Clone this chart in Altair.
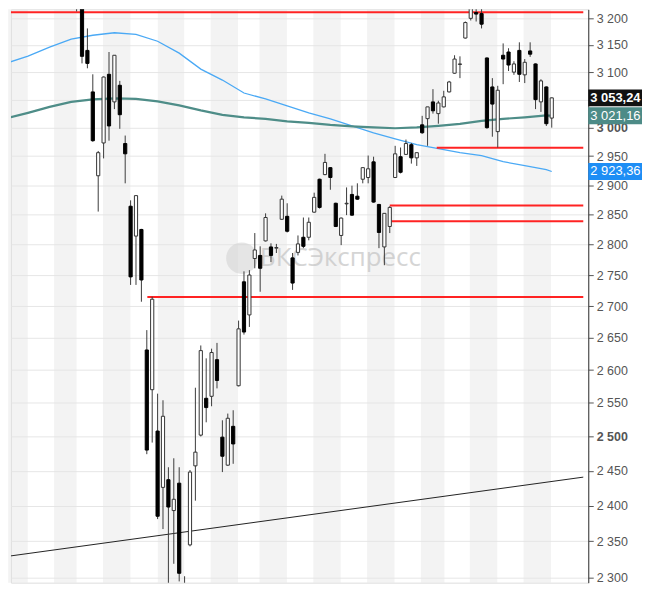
import altair as alt
import pandas as pd

# ---- candles (daily OHLC, index 1..89 from left) ----
opens = [3250, 3245, 3140, 3064, 2916, 2973, 3096, 3046, 3076, 2972,
         2864, 2814, 2825, 2631, 2570, 2508, 2426, 2437, 2393, 2432,
         2292, 2345, 2457, 2502, 2557, 2560, 2616, 2499, 2458, 2515,
         2576, 2739, 2686, 2777, 2782, 2806, 2796, 2794, 2842, 2847,
         2778, 2787, 2812, 2812, 2854, 2910, 2918, 2930, 2869, 2815,
         2868, 2884, 2881, 2910, 2913, 2940, 2867, 2796, 2830, 2913,
         2949, 2953, 2970, 2947, 3005, 3016, 3046, 3025, 3037, 3064,
         3098, 3114, 3163, 3200, 3211, 3209, 3126, 3073, 2993, 3131,
         3137, 3100, 3140, 3095, 3139, 3115, 3046, 3073, 3017]
highs = [3270, 3255, 3181, 3096, 2959, 3092, 3137, 3131, 3084, 2986,
         2874, 2882, 2826, 2662, 2715, 2564, 2554, 2455, 2468, 2455,
         2302, 2451, 2573, 2638, 2618, 2633, 2642, 2524, 2534, 2539,
         2677, 2756, 2758, 2819, 2797, 2852, 2802, 2801, 2882, 2869,
         2786, 2815, 2845, 2845, 2887, 2911, 2954, 2931, 2870, 2845,
         2896, 2899, 2903, 2930, 2951, 2949, 2868, 2852, 2864, 2968,
         2965, 2979, 2973, 2956, 3021, 3037, 3069, 3048, 3066, 3084,
         3131, 3129, 3194, 3245, 3223, 3223, 3127, 3089, 3075, 3153,
         3144, 3120, 3155, 3124, 3155, 3116, 3087, 3074, 3054]
lows = [3213, 3116, 3107, 2975, 2855, 2946, 2977, 3033, 2998, 2903,
        2734, 2734, 2707, 2474, 2491, 2381, 2367, 2281, 2319, 2295,
        2255, 2343, 2407, 2500, 2521, 2545, 2572, 2448, 2457, 2460,
        2575, 2655, 2667, 2761, 2723, 2805, 2771, 2786, 2841, 2820,
        2726, 2782, 2794, 2807, 2853, 2860, 2917, 2892, 2829, 2799,
        2849, 2848, 2875, 2903, 2903, 2870, 2794, 2766, 2819, 2912,
        2920, 2952, 2937, 2933, 2989, 2968, 3025, 3007, 3036, 3063,
        3097, 3089, 3162, 3196, 3194, 3181, 2998, 2984, 2965, 3078,
        3102, 3095, 3082, 3080, 3128, 3033, 3028, 3003, 3000]
closes = [3232, 3129, 3116, 2977, 2956, 3091, 3003, 3131, 3023, 2954,
          2747, 2882, 2742, 2480, 2711, 2385, 2530, 2398, 2409, 2306,
          2262, 2448, 2477, 2630, 2543, 2627, 2584, 2471, 2527, 2489,
          2664, 2659, 2750, 2791, 2761, 2845, 2782, 2795, 2876, 2822,
          2737, 2801, 2797, 2837, 2879, 2862, 2939, 2913, 2830, 2844,
          2869, 2849, 2876, 2930, 2928, 2871, 2820, 2852, 2862, 2954,
          2922, 2972, 2947, 2956, 2991, 3037, 3030, 3044, 3055, 3082,
          3124, 3115, 3192, 3236, 3208, 3189, 3000, 3042, 3067, 3124,
          3113, 3115, 3096, 3118, 3133, 3050, 3084, 3007, 3053.24]

# ---- moving averages ----
ma_idx = [-12, -8, -4, 0, 4, 8, 12, 16, 20, 24, 28, 32, 36, 40, 44,
          48, 52, 56, 60, 64, 68, 72, 76, 80, 84, 88, 89]
ma_blue = [3116.5, 3129.3, 3146.0, 3160.8, 3168.2, 3172.9, 3170.0, 3157.0,
           3134.9, 3105.5, 3085.5, 3062.0, 3051.3, 3038.7, 3026.3, 3015.6,
           3003.3, 2990.9, 2980.4, 2969.9, 2962.9, 2956.0, 2950.8, 2940.4,
           2933.5, 2926.6, 2923.36]
ma_teal = [3016.5, 3026.3, 3037.0, 3045.9, 3050.4, 3052.2, 3051.3, 3046.8,
           3039.7, 3030.7, 3022.7, 3018.3, 3015.6, 3011.2, 3008.6, 3005.0,
           3002.4, 3000.6, 2998.9, 3000.6, 3003.3, 3006.8, 3012.1, 3015.6,
           3018.3, 3021.8, 3021.16]

# ---- week shading (index units) ----
band_start = [-11.68, -3.17, 5.89, 16.04, 25.82, 34.88, 44.84, 54.80, 64.77, 73.83, 83.79]
band_end = [-8.06, 1.00, 10.96, 20.93, 30.89, 39.95, 49.91, 59.88, 69.12, 78.90, 88.86]

# ---- horizontal levels (red) ----
level_values = [3211.3, 2964.7, 2865.4, 2838.6, 2714.7]
level_start = [-12.0, 67.7, 59.0, 59.3, 14.1]

# ---- trend line ----
trend_idx = [-11.68, 94.84]
trend_val = [2329.3, 2440.7]

# ---- axis ticks & last-value tags ----
tick_values = list(range(2300, 3201, 50))
tag_values = [3053.24, 3021.16, 2923.36]
tag_text = ["3 053,24", "3 021,16", "2 923,36"]
tag_fill = ["#111111", "#4d8b87", "#1e8ef5"]
tag_bold = [True, False, False]

W, H = 580, 576
X_DOM = [-10.232, 94.841]
Y_DOM = [2293.3, 3217.0]

xs = alt.Scale(domain=X_DOM, nice=False, zero=False)
ys = alt.Scale(type="log", domain=Y_DOM, nice=False, zero=False)

n = len(opens)
candles = pd.DataFrame({
    "i": list(range(1, n + 1)),
    "o": opens, "h": highs, "l": lows, "c": closes,
})
candles["dir"] = ["up" if c >= o else "down" for o, c in zip(opens, closes)]

bands = pd.DataFrame({"s": band_start, "e": band_end})
ma = pd.DataFrame({"i": ma_idx, "blue": ma_blue, "teal": ma_teal})
levels = pd.DataFrame({"v": level_values, "s": level_start})
trend = pd.DataFrame({"i": trend_idx, "v": trend_val})
tags = pd.DataFrame({"v": tag_values, "t": tag_text, "f": tag_fill, "b": tag_bold})
wm = pd.DataFrame({"t": ["БКСЭкспресс"]})

# the 3 050 label sits under the last-price tag in the original, so it is left blank
yaxis = alt.Axis(
    orient="right", values=tick_values, title=None,
    labelExpr="datum.value == 3050 ? '' : replace(format(datum.value, ','), ',', ' ')",
    labelFont="Liberation Sans", labelFontSize=12.5, labelColor="#555555",
    labelFontWeight={"condition": {"test": "datum.value % 500 === 0", "value": "bold"}, "value": "normal"},
    labelPadding=3, tickSize=5, tickColor="#555555", domainColor="#333333",
    grid=True, gridColor="#e6e6e6", gridWidth=1,
)


def Y(field):
    return alt.Y(field, scale=ys, axis=yaxis, title=None)


def X(field):
    return alt.X(field, scale=xs, axis=None, title=None)


band_layer = alt.Chart(bands).mark_rect(color="#e4e4e4", opacity=0.45).encode(
    x=X("s:Q"), x2="e:Q",
    y=alt.value(0), y2=alt.value(H),
)

axis_layer = alt.Chart(pd.DataFrame({"v": [3000]})).mark_point(opacity=0).encode(
    x=alt.value(0), y=Y("v:Q"),
)

trend_layer = alt.Chart(trend).mark_line(color="#222222", strokeWidth=1, clip=True).encode(
    x=X("i:Q"), y=Y("v:Q"),
)

blue_layer = alt.Chart(ma).mark_line(color="#4aa9f5", strokeWidth=1.3, clip=True).encode(
    x=X("i:Q"), y=Y("blue:Q"),
)
teal_layer = alt.Chart(ma).mark_line(color="#4e8d88", strokeWidth=2.2, clip=True).encode(
    x=X("i:Q"), y=Y("teal:Q"),
)

level_layer = alt.Chart(levels).mark_rule(color="#ff2323", strokeWidth=2, clip=True).encode(
    x=X("s:Q"), x2=alt.datum(X_DOM[1]), y=Y("v:Q"),
)

wick_layer = alt.Chart(candles).mark_rule(color="#3a3a3a", strokeWidth=1, clip=True).encode(
    x=X("i:Q"), y=Y("l:Q"), y2="h:Q",
)

body_layer = alt.Chart(candles).mark_bar(size=3.2, strokeWidth=1, clip=True).encode(
    x=X("i:Q"), y=Y("o:Q"), y2="c:Q",
    fill=alt.Fill("dir:N", scale=alt.Scale(domain=["up", "down"], range=["#ffffff", "#000000"]), legend=None),
    stroke=alt.Stroke("dir:N", scale=alt.Scale(domain=["up", "down"], range=["#333333", "#000000"]), legend=None),
)

logo_layer = alt.Chart(wm).mark_point(shape="circle", filled=True, size=1000,
                                      color="#d4d4d4", opacity=0.6).encode(
    x=alt.value(232), y=alt.value(250),
)
wm_layer = alt.Chart(wm).mark_text(font="Open Sans", fontSize=26, color="#c4c4c4",
                                   opacity=0.7, align="left", baseline="middle").encode(
    x=alt.value(250), y=alt.value(250), text="t:N",
)

box_path = "M-1,-0.315L1,-0.315L1,0.315L-1,0.315Z"
tag_box = alt.Chart(tags).mark_point(shape=box_path, filled=True, size=2916, opacity=1,
                                     strokeWidth=0).encode(
    x=alt.value(607), y=Y("v:Q"),
    color=alt.Color("f:N", scale=None, legend=None),
)
tag_txt_bold = alt.Chart(tags).transform_filter("datum.b").mark_text(
    font="Liberation Sans", fontSize=13, fontWeight="bold", color="white",
    align="left", baseline="middle").encode(
    x=alt.value(582), y=Y("v:Q"), text="t:N",
)
tag_txt_norm = alt.Chart(tags).transform_filter("!datum.b").mark_text(
    font="Liberation Sans", fontSize=13, color="white",
    align="left", baseline="middle").encode(
    x=alt.value(582), y=Y("v:Q"), text="t:N",
)

chart = alt.layer(
    band_layer, axis_layer, trend_layer, blue_layer, teal_layer, level_layer,
    logo_layer, wm_layer, wick_layer, body_layer, tag_box, tag_txt_bold, tag_txt_norm,
).properties(
    width=W, height=H, padding={"left": 0, "top": 0, "right": 0, "bottom": 0},
).configure_view(stroke=None).configure(background="white")

chart.save("out.html", embed_options={"renderer": "svg", "actions": False})
